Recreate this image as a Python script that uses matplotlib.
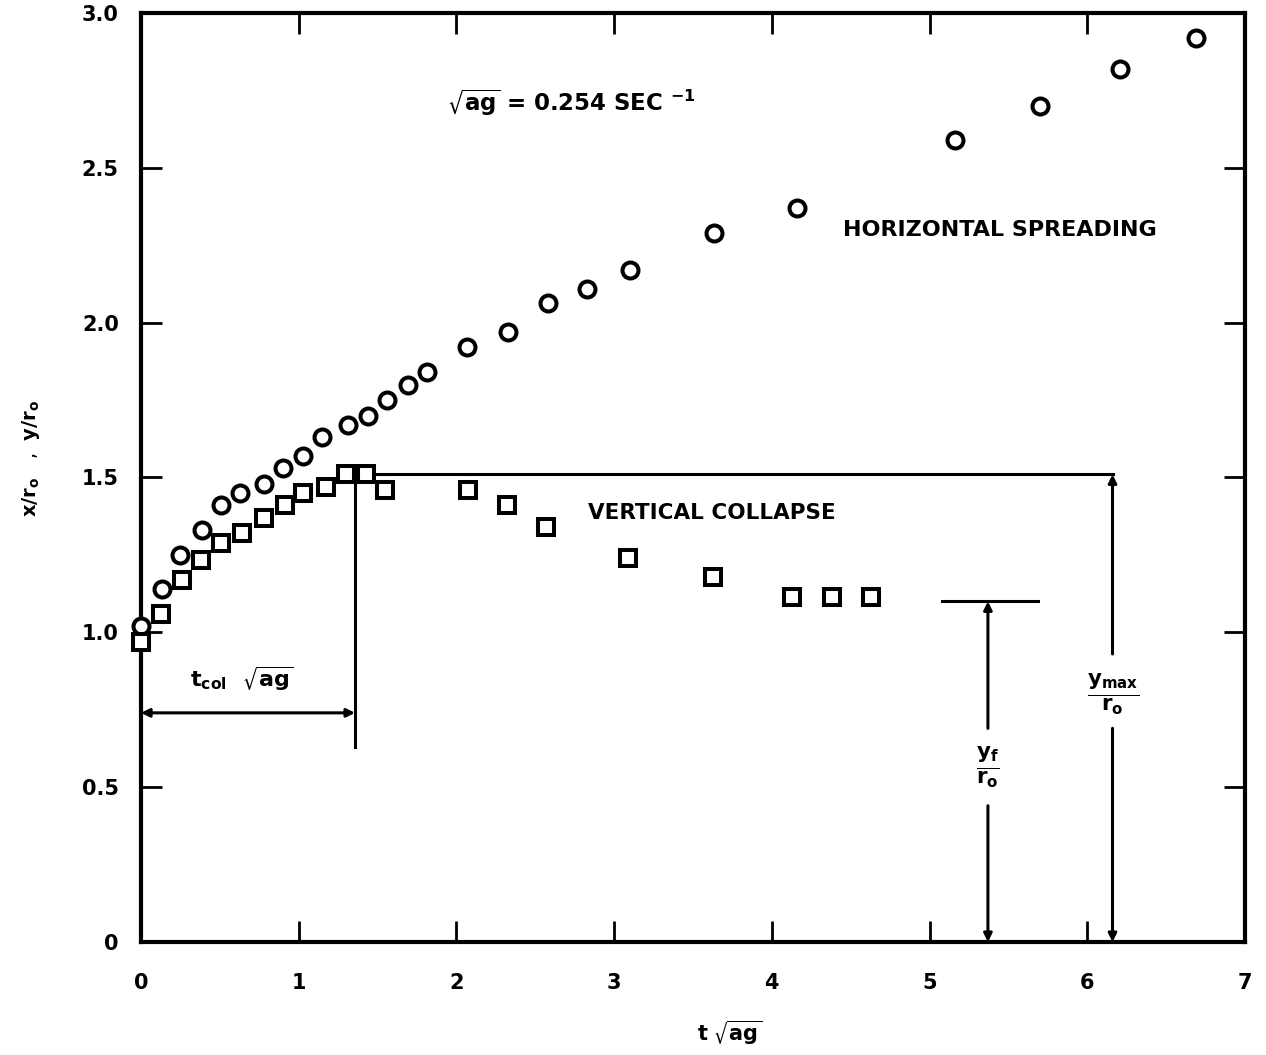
import matplotlib
matplotlib.use("Agg")
import matplotlib.pyplot as plt

plt.rcParams['font.family'] = ['DejaVu Sans']
plt.rcParams['font.weight'] = 'bold'
plt.rcParams['mathtext.fontset'] = 'dejavusans'
plt.rcParams['mathtext.default'] = 'bf'

# horizontal spreading (circles)
t_spread = [0.0, 0.13, 0.25, 0.385, 0.51, 0.63, 0.78, 0.90, 1.03, 1.15, 1.31, 1.44,
            1.56, 1.695, 1.815, 2.07, 2.325, 2.58, 2.83, 3.10, 3.63, 4.16, 5.16,
            5.70, 6.21, 6.69]
x_spread = [1.02, 1.14, 1.25, 1.33, 1.41, 1.45, 1.48, 1.53, 1.57, 1.63, 1.67, 1.70,
            1.75, 1.80, 1.84, 1.92, 1.97, 2.065, 2.11, 2.17, 2.29, 2.37, 2.59,
            2.70, 2.82, 2.92]

# vertical collapse (squares)
t_coll = [0.0, 0.125, 0.26, 0.38, 0.51, 0.64, 0.78, 0.91, 1.03, 1.17, 1.30, 1.425,
          1.55, 2.075, 2.32, 2.57, 3.09, 3.625, 4.13, 4.38, 4.63]
y_coll = [0.97, 1.06, 1.17, 1.235, 1.29, 1.32, 1.37, 1.41, 1.45, 1.47, 1.51, 1.51,
          1.46, 1.46, 1.41, 1.34, 1.24, 1.18, 1.115, 1.115, 1.115]

t_col = 1.357
y_max = 1.51
y_f = 1.10
x_yf = 5.37
x_ymax = 6.16

fig = plt.figure(figsize=(12.66, 10.55), dpi=100)
ax = fig.add_axes([0.1114, 0.1071, 0.872, 0.8806])

lw = 2.2
ax.plot(t_spread, x_spread, 'o', ms=11.5, mfc='white', mec='black', mew=2.9, clip_on=False, zorder=5)
ax.plot(t_coll, y_coll, 's', ms=11, mfc='white', mec='black', mew=2.9, clip_on=False, zorder=5)

# y_max reference line and t_col marker
ax.plot([t_col, x_ymax], [y_max, y_max], color='black', lw=lw)
ax.plot([t_col, t_col], [y_max, 0.63], color='black', lw=lw)
ax.annotate('', xy=(0, 0.74), xytext=(t_col, 0.74),
            arrowprops=dict(arrowstyle='<|-|>', color='black', lw=lw, mutation_scale=12, shrinkA=0, shrinkB=0))

# y_max arrow
arr = dict(arrowstyle='-|>', color='black', lw=lw, mutation_scale=12, shrinkA=0, shrinkB=0)
ax.annotate('', xy=(x_ymax, y_max), xytext=(x_ymax, 0.93), arrowprops=arr)
ax.annotate('', xy=(x_ymax, 0.0), xytext=(x_ymax, 0.69), arrowprops=arr)

# y_f arrow
ax.plot([5.08, 5.69], [y_f, y_f], color='black', lw=lw)
ax.annotate('', xy=(x_yf, y_f), xytext=(x_yf, 0.69), arrowprops=arr)
ax.annotate('', xy=(x_yf, 0.0), xytext=(x_yf, 0.44), arrowprops=arr)

ax.text(x_ymax, 0.80, r'$\frac{y_{max}}{r_o}$', fontsize=22, ha='center', va='center')
ax.text(x_yf, 0.565, r'$\frac{y_f}{r_o}$', fontsize=22, ha='center', va='center')

ax.text(1.94, 2.71, r'$\sqrt{ag}$ = 0.254 SEC $^{-1}$', fontsize=16.5, va='center')
ax.text(4.45, 2.30, 'HORIZONTAL SPREADING', fontsize=16, va='center')
ax.text(2.835, 1.385, 'VERTICAL COLLAPSE', fontsize=15.5, va='center')
ax.text(0.31, 0.85, r'$t_{col}$  $\sqrt{ag}$', fontsize=16, va='center')

ax.set_xlim(0, 7)
ax.set_ylim(0, 3)
ax.set_xticks(range(8))
ax.set_yticks([0, 0.5, 1.0, 1.5, 2.0, 2.5, 3.0])
ax.set_yticklabels(['0', '0.5', '1.0', '1.5', '2.0', '2.5', '3.0'])
ax.tick_params(direction='in', length=15, width=2, top=True, right=True, labelsize=15)
ax.tick_params(axis='x', pad=22)
ax.tick_params(axis='y', pad=16)
for s in ax.spines.values():
    s.set_linewidth(3)

ax.set_xlabel(r'$t$ $\sqrt{ag}$', fontsize=15)
ax.xaxis.set_label_coords(0.533, -0.083)
ax.set_ylabel(r'$x/r_o$   ,  $y/r_o$', fontsize=14)
ax.yaxis.set_label_coords(-0.09, 0.52)

fig.savefig('out.png', dpi=100)
